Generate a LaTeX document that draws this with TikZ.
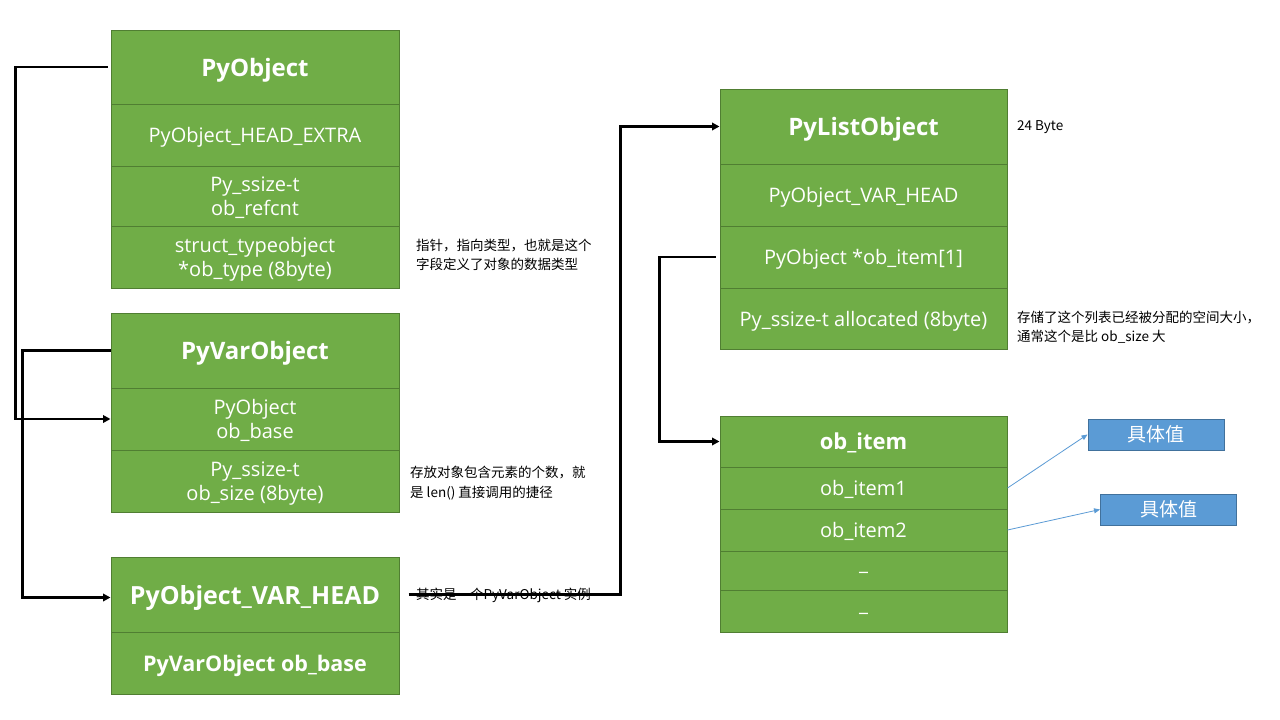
\documentclass[tikz,border=0pt]{standalone}
\usepackage{fontspec}
\setmainfont{Open Sans}
\newfontfamily\cjk{Noto Sans CJK SC}
\usetikzlibrary{arrows.meta}
\definecolor{gfill}{HTML}{70AD47}
\definecolor{gdraw}{HTML}{507E32}
\definecolor{bfill}{HTML}{5B9BD5}
\definecolor{bdraw}{HTML}{41719C}
\begin{document}
\begin{tikzpicture}[x=1pt,y=-1pt,
 row/.style={draw=gdraw, line width=1pt, fill=gfill, text=white, minimum width=288pt, inner sep=0pt, text depth=0pt, align=center, font=\fontsize{20}{24}\selectfont},
 ttl/.style={row, font=\fontsize{24}{28}\selectfont\bfseries},
 note/.style={anchor=west, inner sep=0pt, align=left, font=\cjk\fontsize{13.5}{19.5}\selectfont},
 val/.style={draw=bdraw, line width=1pt, fill=bfill, text=white, minimum width=136pt, minimum height=31pt, inner sep=0pt, font=\cjk\fontsize{19}{22}\selectfont},
 conn/.style={line width=2.7pt, -{Triangle[length=7.5pt,width=7.5pt]}},
 thin/.style={draw=bfill, line width=0.8pt, -{Triangle[length=6pt,width=5pt]}}
]
\fill[white] (0,0) rectangle (1280,720);
\useasboundingbox (0,0) rectangle (1280,720);

% PyObject
\node[ttl, minimum height=74pt] (po1) at (255,67) {PyObject};
\node[row, minimum height=62pt] (po2) at (255,135) {PyObject\_HEAD\_EXTRA};
\node[row, minimum height=60pt] (po3) at (255,196) {Py\_ssize-t\\ob\_refcnt};
\node[row, minimum height=62pt] (po4) at (255,257) {struct\_typeobject\\*ob\_type (8byte)};

% PyVarObject
\node[ttl, minimum height=75pt] (pv1) at (255,350.5) {PyVarObject};
\node[row, minimum height=62pt] (pv2) at (255,419) {PyObject\\ob\_base};
\node[row, minimum height=62pt] (pv3) at (255,481) {Py\_ssize-t\\ob\_size (8byte)};

% PyObject_VAR_HEAD
\node[ttl, minimum height=75pt, font=\fontsize{25}{29}\selectfont\bfseries] (ph1) at (255,594.5) {PyObject\_VAR\_HEAD};
\node[row, minimum height=62pt, font=\fontsize{21.5}{25}\selectfont\bfseries] (ph2) at (255,663) {PyVarObject\ ob\_base};

% PyListObject
\node[ttl, minimum width=287pt, minimum height=75pt] (pl1) at (863.5,126.5) {PyListObject};
\node[row, minimum width=287pt, minimum height=62pt] (pl2) at (863.5,195) {PyObject\_VAR\_HEAD};
\node[row, minimum width=287pt, minimum height=62pt] (pl3) at (863.5,257) {PyObject *ob\_item[1]};
\node[row, minimum width=287pt, minimum height=61pt] (pl4) at (863.5,318.5) {Py\_ssize-t allocated (8byte)};

% ob_item
\node[ttl, minimum width=287pt, minimum height=51pt, font=\fontsize{22}{26}\selectfont\bfseries] (oi1) at (863.5,441.5) {ob\_item};
\node[row, minimum width=287pt, minimum height=42pt] (oi2) at (863.5,488) {ob\_item1};
\node[row, minimum width=287pt, minimum height=42pt] (oi3) at (863.5,530) {ob\_item2};
\node[row, minimum width=287pt, minimum height=39pt] (oi4) at (863.5,570.5) {\_};
\node[row, minimum width=287pt, minimum height=42pt] (oi5) at (863.5,611) {\_};

% values
\node[val] (b1) at (1156,434.5) {具体值};
\node[val] (b2) at (1168.5,509.5) {具体值};

% notes
\node[note] (n1) at (416,255) {指针，指向类型，也就是这个\\字段定义了对象的数据类型};
\node[note] (n2) at (410,483) {存放对象包含元素的个数，就\\是 len() 直接调用的捷径};
\node[note] (n3) at (416,595) {其实是一个PyVarObject 实例};
\node[note] (n4) at (1017,127) {24 Byte};
\node[note] (n5) at (1017,327) {存储了这个列表已经被分配的空间大小，\\通常这个是比 ob\_size 大};

% connectors
\draw[conn] ([xshift=-3pt]po1.west) -- ++(-92,0) |- (pv2.west);
\draw[conn] (pv1.west) -- ++(-88,0) |- ([yshift=-3pt]ph1.west);
\draw[conn] ([xshift=9pt]ph1.east) -- ++(212,0) |- (pl1.west);
\draw[conn] ([xshift=-4pt]pl3.west) -- ++(-56,0) |- (oi1.west);
\draw[thin] (oi2.east) -- (b1.west);
\draw[thin] (oi3.east) -- (b2.west);
\end{tikzpicture}
\end{document}
